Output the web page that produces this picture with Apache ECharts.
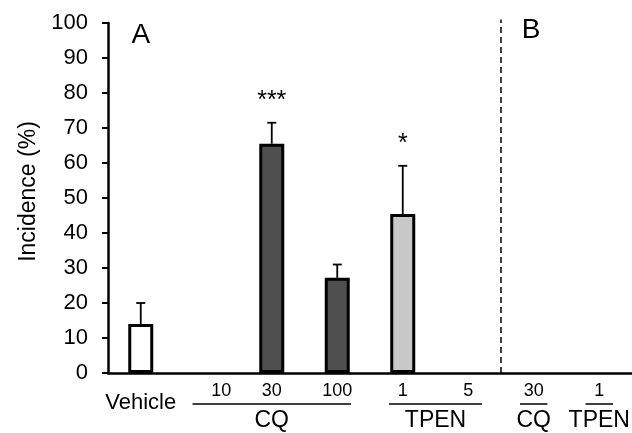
<!DOCTYPE html>
<html>
<head>
<meta charset="utf-8">
<script src="https://cdn.jsdelivr.net/npm/echarts@6/dist/echarts.min.js"></script>
<style>
html,body{margin:0;padding:0;background:#fff;}
#c{width:632px;height:433px;}
</style>
</head>
<body>
<div id="c"></div>
<script>
// ---- data ----
const categories = ['Vehicle', 'CQ 10', 'CQ 30', 'CQ 100', 'TPEN 1', 'TPEN 5', 'B CQ 30', 'B TPEN 1'];
const tickLabels = ['Vehicle', '10', '30', '100', '1', '5', '30', '1'];
const treatment = ['vehicle', 'cq', 'cq', 'cq', 'tpen', 'tpen', 'cq', 'tpen'];
const incidence = [14, 0, 65.5, 27.2, 45.4, 0, 0, 0];
const sem = [6, 0, 6, 3.8, 13.8, 0, 0, 0];
const stars = ['', '', '***', '', '*', '', '', ''];
const groupNames = ['CQ', 'TPEN', 'CQ', 'TPEN'];
const groupFrom = [1, 4, 6, 7];
const groupTo = [3, 5, 6, 7];
const panelLabels = ['A', 'B'];
const panelAt = [0, 6];
const yTicks = [0, 100, 10];

// ---- styles ----
const FONT = '"Liberation Sans", Arial, Helvetica, sans-serif';
const fillFor = { vehicle: '#ffffff', cq: '#4f4f4f', tpen: '#c8c8c8' };

const chart = echarts.init(document.getElementById('c'), null, { renderer: 'canvas' });

const barData = incidence.map((v, i) => ({
  value: v,
  itemStyle: { color: fillFor[treatment[i]], borderColor: v > 0 ? '#000' : 'transparent', borderWidth: 3 }
}));

const errData = incidence.map((v, i) => [i, v, v + sem[i], stars[i], sem[i]]);
const groupData = groupNames.map((n, i) => [groupFrom[i], groupTo[i], n]);

const option = {
  animation: false,
  backgroundColor: '#fff',
  grid: { left: 108, right: 0, top: 23, bottom: 60, containLabel: false },
  xAxis: {
    type: 'category',
    data: categories,
    boundaryGap: true,
    axisLine: { lineStyle: { color: '#000', width: 2.5 } },
    axisTick: { show: false },
    axisLabel: {
      interval: 0,
      margin: 9,
      color: '#000',
      fontFamily: FONT,
      formatter: (val, idx) => {
        const t = tickLabels[idx];
        if (idx === 0) return '{veh|' + t + '}';
        if (idx === 1) return '{shift|' + t + '}';
        return '{num|' + t + '}';
      },
      rich: {
        veh: { fontSize: 22, lineHeight: 41, fontFamily: FONT, color: '#000' },
        num: { fontSize: 18, lineHeight: 18, fontFamily: FONT, color: '#000' },
        shift: { fontSize: 18, lineHeight: 18, fontFamily: FONT, color: '#000', padding: [0, 0, 0, 30] }
      }
    },
    splitLine: { show: false }
  },
  yAxis: {
    type: 'value',
    min: yTicks[0], max: yTicks[1], interval: yTicks[2],
    name: 'Incidence (%)',
    nameLocation: 'middle',
    nameGap: 66,
    nameTextStyle: { fontSize: 23, fontFamily: FONT, color: '#000', padding: [0, 0, 0, 13] },
    axisLine: { show: true, lineStyle: { color: '#000', width: 2.5 } },
    axisTick: { show: true, inside: false, length: 6, lineStyle: { color: '#000', width: 2 } },
    axisLabel: { fontSize: 22, fontFamily: FONT, color: '#000', margin: 20 },
    splitLine: { show: false }
  },
  series: [
    {
      type: 'bar',
      data: barData,
      barWidth: 25,
      z: 2
    },
    {
      type: 'custom',
      data: errData,
      z: 3,
      renderItem: (params, api) => {
        const i = api.value(0);
        const v = api.value(1);
        const top = api.value(2);
        const e = api.value(4);
        const star = stars[i];
        if (!(e > 0)) return null;
        const p0 = api.coord([i, v]);
        const p1 = api.coord([i, top]);
        const children = [
          { type: 'line', shape: { x1: p0[0], y1: p0[1], x2: p1[0], y2: p1[1] }, style: { stroke: '#000', lineWidth: 1.8 } },
          { type: 'line', shape: { x1: p1[0] - 4.5, y1: p1[1], x2: p1[0] + 4.5, y2: p1[1] }, style: { stroke: '#000', lineWidth: 1.8 } }
        ];
        if (star) {
          children.push({
            type: 'text',
            style: { text: star, x: p1[0], y: p1[1] - 22, align: 'center', verticalAlign: 'middle', fontSize: 25, fontFamily: FONT, fill: '#000' }
          });
        }
        return { type: 'group', children };
      }
    },
    {
      // dashed divider between panel A and B, plus panel letters
      type: 'custom',
      data: [[panelAt[1]]],
      z: 1,
      renderItem: (params, api) => {
        const band = api.size([1, 0])[0];
        const b = api.coord([panelAt[1], 0]);
        const t = api.coord([panelAt[1], 101]);
        const x = b[0] - band / 2;
        const a = api.coord([panelAt[0], 100]);
        return {
          type: 'group',
          children: [
            { type: 'line', shape: { x1: x, y1: b[1], x2: x, y2: t[1] }, style: { stroke: '#000', lineWidth: 1.5, lineDash: [6, 4] } },
            { type: 'text', style: { text: panelLabels[0], x: a[0], y: a[1] + 12, align: 'center', verticalAlign: 'middle', fontSize: 28, fontFamily: FONT, fill: '#000' } },
            { type: 'text', style: { text: panelLabels[1], x: x + 30, y: a[1] + 7, align: 'center', verticalAlign: 'middle', fontSize: 28, fontFamily: FONT, fill: '#000' } }
          ]
        };
      }
    },
    {
      // treatment group labels with underline
      type: 'custom',
      data: groupData,
      z: 1,
      renderItem: (params, api) => {
        const band = api.size([1, 0])[0];
        const p1 = api.coord([api.value(0), 0]);
        const p2 = api.coord([api.value(1), 0]);
        const name = groupNames[params.dataIndex];
        const x1 = p1[0] - 0.21 * band;
        const x2 = p2[0] + 0.21 * band;
        const y = p1[1] + 31;
        return {
          type: 'group',
          children: [
            { type: 'line', shape: { x1, y1: y, x2, y2: y }, style: { stroke: '#000', lineWidth: 1.5 } },
            { type: 'text', style: { text: name, x: (x1 + x2) / 2, y: y + 17, align: 'center', verticalAlign: 'middle', fontSize: 23, fontFamily: FONT, fill: '#000' } }
          ]
        };
      }
    }
  ]
};

chart.setOption(option);
</script>
</body>
</html>
